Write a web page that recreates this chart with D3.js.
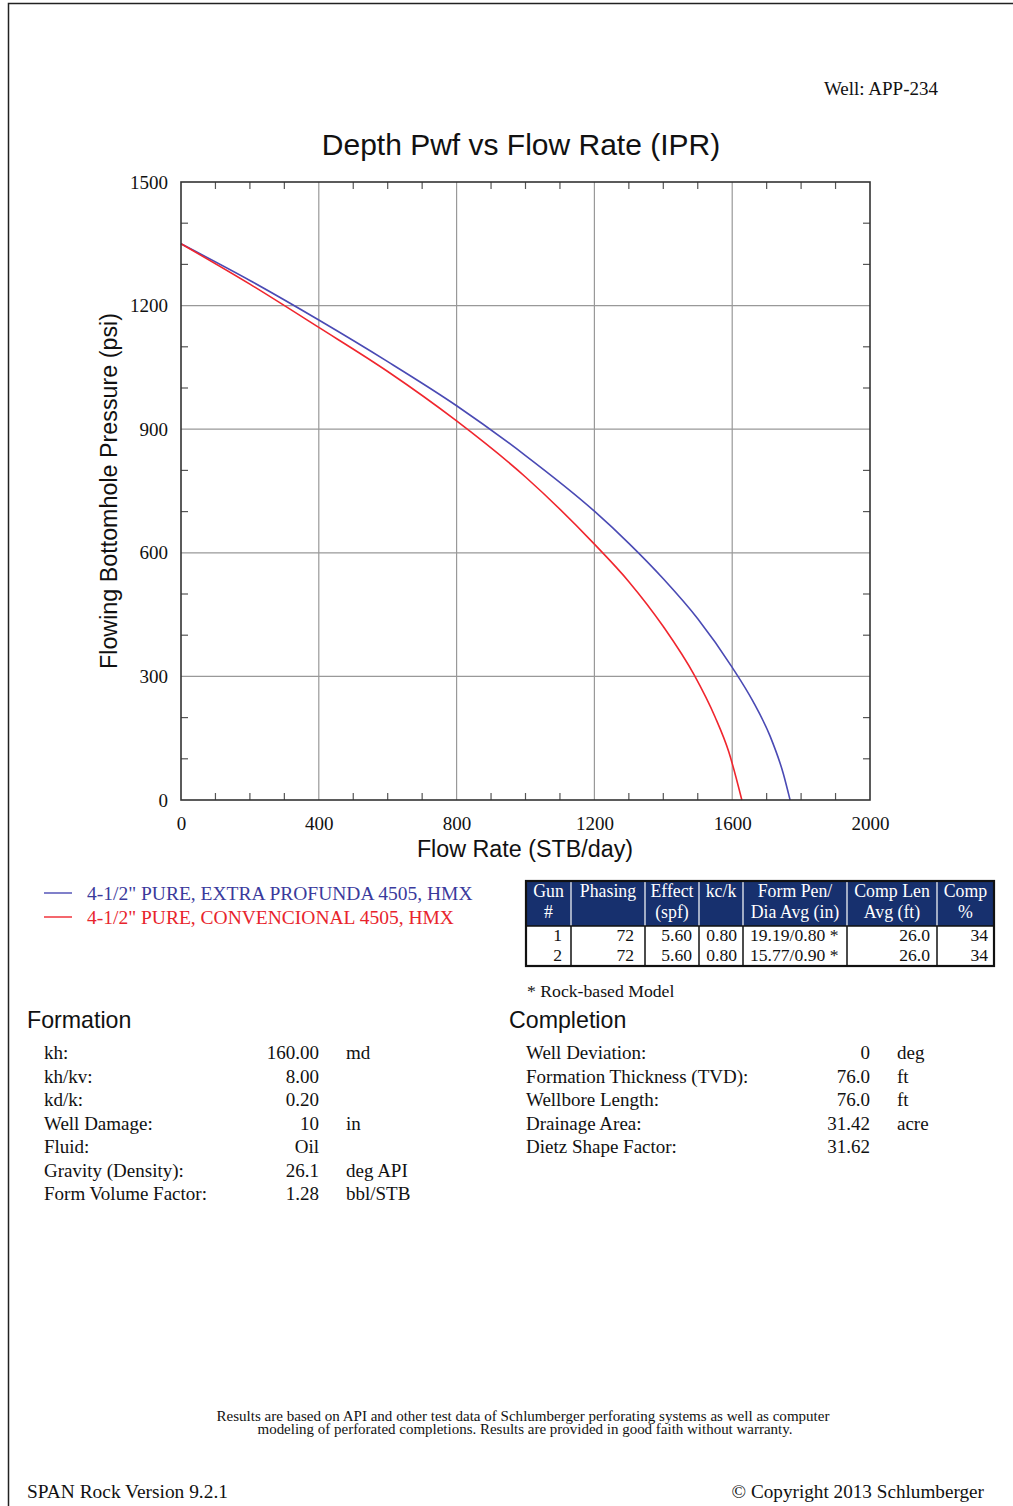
<!DOCTYPE html>
<html>
<head>
<meta charset="utf-8">
<script src="https://cdn.jsdelivr.net/npm/d3@7"></script>
<style>
  html, body { margin: 0; padding: 0; background: #fff; }
  svg { display: block; }
  .serif { font-family: "Liberation Serif", "Times New Roman", serif; }
  .sans { font-family: "Liberation Sans", Arial, sans-serif; }
</style>
</head>
<body>
<script>
// ---- Chart data ----
const xTicks = [0, 400, 800, 1200, 1600, 2000];
const yTicks = [0, 300, 600, 900, 1200, 1500];
const xMinor = d3.range(0, 2001, 100);
const yMinor = d3.range(0, 1501, 100);

// IPR curves: flow rate (STB/day) vs flowing bottomhole pressure (psi)
const extraRate     = [0, 200, 400, 600, 800, 1000, 1200, 1300, 1400, 1500, 1600, 1660, 1710, 1748, 1768];
const extraPressure = [1350, 1261, 1165, 1064, 957, 836, 701, 623, 537, 440, 322, 240, 155, 65, 0];
const convRate      = [0, 200, 400, 600, 800, 1000, 1200, 1300, 1400, 1490, 1550, 1590, 1628];
const convPressure  = [1350, 1252, 1147, 1040, 920, 784, 621, 530, 421, 303, 202, 117, 0];

const seriesNames  = ['4-1/2" PURE, EXTRA PROFUNDA 4505, HMX', '4-1/2" PURE, CONVENCIONAL 4505, HMX'];
const seriesColors = ["#4a4ab4", "#f0262e"];
const legendColors = ["#3a3a9c", "#e8242c"];

// Gun table
const tableHead1 = ["Gun", "Phasing", "Effect", "kc/k", "Form Pen/", "Comp Len", "Comp"];
const tableHead2 = ["#", "", "(spf)", "", "Dia Avg (in)", "Avg (ft)", "%"];
const tableRows = [
  ["1", "72", "5.60", "0.80", "19.19/0.80 *", "26.0", "34"],
  ["2", "72", "5.60", "0.80", "15.77/0.90 *", "26.0", "34"]
];

const formationLabels = ["kh:", "kh/kv:", "kd/k:", "Well Damage:", "Fluid:", "Gravity (Density):", "Form Volume Factor:"];
const formationValues = ["160.00", "8.00", "0.20", "10", "Oil", "26.1", "1.28"];
const formationUnits  = ["md", "", "", "in", "", "deg API", "bbl/STB"];

const completionLabels = ["Well Deviation:", "Formation Thickness (TVD):", "Wellbore Length:", "Drainage Area:", "Dietz Shape Factor:"];
const completionValues = ["0", "76.0", "76.0", "31.42", "31.62"];
const completionUnits  = ["deg", "ft", "ft", "acre", ""];

// ---- Page ----
const W = 1013, H = 1506;
const svg = d3.select("body").append("svg").attr("width", W).attr("height", H);
const ink = "#111";

// page frame (left and top edges)
svg.append("path").attr("d", `M8.5,${H} V3.5 H${W}`)
  .attr("fill", "none").attr("stroke", "#222").attr("stroke-width", 1.5);

svg.append("text").attr("class", "serif").attr("x", 938).attr("y", 95)
  .attr("text-anchor", "end").attr("font-size", 19).attr("fill", ink).text("Well: APP-234");

svg.append("text").attr("class", "sans").attr("x", 521).attr("y", 155)
  .attr("text-anchor", "middle").attr("font-size", 30).attr("fill", ink)
  .text("Depth Pwf vs Flow Rate (IPR)");

// ---- Plot ----
const plot = { left: 181, right: 870, top: 182, bottom: 800 };
const x = d3.scaleLinear().domain([0, 2000]).range([plot.left, plot.right]);
const y = d3.scaleLinear().domain([0, 1500]).range([plot.bottom, plot.top]);

const g = svg.append("g");

// grid lines at major ticks
g.append("g").selectAll("line").data(xTicks.slice(1, -1)).join("line")
  .attr("x1", d => x(d)).attr("x2", d => x(d)).attr("y1", plot.top).attr("y2", plot.bottom)
  .attr("stroke", "#999").attr("stroke-width", 1.2);
g.append("g").selectAll("line").data(yTicks.slice(1, -1)).join("line")
  .attr("y1", d => y(d)).attr("y2", d => y(d)).attr("x1", plot.left).attr("x2", plot.right)
  .attr("stroke", "#999").attr("stroke-width", 1.2);

// inward minor tick marks on all four sides
const tl = 7;
const minorX = xMinor.filter(d => !xTicks.includes(d));
const minorY = yMinor.filter(d => !yTicks.includes(d));
const tickG = g.append("g").attr("stroke", "#555").attr("stroke-width", 1.2);
tickG.selectAll(".tb").data(minorX).join("line").attr("class", "tb")
  .attr("x1", d => x(d)).attr("x2", d => x(d)).attr("y1", plot.bottom).attr("y2", plot.bottom - tl);
tickG.selectAll(".tt").data(minorX).join("line").attr("class", "tt")
  .attr("x1", d => x(d)).attr("x2", d => x(d)).attr("y1", plot.top).attr("y2", plot.top + tl);
tickG.selectAll(".tl").data(minorY).join("line").attr("class", "tl")
  .attr("y1", d => y(d)).attr("y2", d => y(d)).attr("x1", plot.left).attr("x2", plot.left + tl);
tickG.selectAll(".tr").data(minorY).join("line").attr("class", "tr")
  .attr("y1", d => y(d)).attr("y2", d => y(d)).attr("x1", plot.right).attr("x2", plot.right - tl);

// tick labels through d3 axes (domain and tick lines hidden)
const fmt = d3.format("d");
const xAxis = g.append("g").attr("transform", `translate(0,${plot.bottom})`)
  .call(d3.axisBottom(x).tickValues(xTicks).tickFormat(fmt).tickSize(0).tickPadding(17));
const yAxis = g.append("g").attr("transform", `translate(${plot.left},0)`)
  .call(d3.axisLeft(y).tickValues(yTicks).tickFormat(fmt).tickSize(0).tickPadding(13));
[xAxis, yAxis].forEach(a => {
  a.select(".domain").remove();
  a.selectAll("text").attr("class", "serif").attr("font-size", 19).attr("fill", ink);
});
yAxis.selectAll("text").attr("dy", "0.32em");

// curves
const line = d3.line().x(d => x(d[0])).y(d => y(d[1])).curve(d3.curveMonotoneX);
const series = [
  d3.zip(extraRate, extraPressure),
  d3.zip(convRate, convPressure)
];
g.append("g").selectAll("path").data(series).join("path")
  .attr("d", line).attr("fill", "none")
  .attr("stroke", (d, i) => seriesColors[i]).attr("stroke-width", 1.6);

// plot frame
g.append("rect").attr("x", plot.left).attr("y", plot.top)
  .attr("width", plot.right - plot.left).attr("height", plot.bottom - plot.top)
  .attr("fill", "none").attr("stroke", "#333").attr("stroke-width", 1.6);

// axis titles
svg.append("text").attr("class", "sans").attr("x", 525).attr("y", 857)
  .attr("text-anchor", "middle").attr("font-size", 23.3).attr("fill", ink).text("Flow Rate (STB/day)");
svg.append("text").attr("class", "sans")
  .attr("transform", `translate(117,${(plot.top + plot.bottom) / 2}) rotate(-90)`)
  .attr("text-anchor", "middle").attr("font-size", 23.3).attr("fill", ink)
  .text("Flowing Bottomhole Pressure (psi)");

// ---- Legend ----
const leg = svg.append("g").selectAll("g").data(seriesNames).join("g")
  .attr("transform", (d, i) => `translate(44,${893 + i * 24})`);
leg.append("line").attr("x1", 0).attr("x2", 28).attr("y1", 0).attr("y2", 0)
  .attr("stroke", (d, i) => seriesColors[i]).attr("stroke-width", 1.4);
leg.append("text").attr("class", "serif").attr("x", 43).attr("y", 6.5)
  .attr("font-size", 19.5).attr("fill", (d, i) => legendColors[i]).text(d => d);

// ---- Gun table ----
const colEdges = [526, 571, 645, 699, 743, 847, 937, 994];
const tTop = 881, headBottom = 926, rowH = 20;
const tBottom = headBottom + rowH * tableRows.length;
const tbl = svg.append("g");
tbl.append("rect").attr("x", colEdges[0]).attr("y", tTop)
  .attr("width", colEdges[7] - colEdges[0]).attr("height", headBottom - tTop).attr("fill", "#17306e");
// header separators
tbl.selectAll(".hs").data(colEdges.slice(1, -1)).join("line").attr("class", "hs")
  .attr("x1", d => d).attr("x2", d => d).attr("y1", tTop).attr("y2", headBottom)
  .attr("stroke", "#fff").attr("stroke-width", 1.2);
// body separators
tbl.selectAll(".bs").data(colEdges.slice(1, -1)).join("line").attr("class", "bs")
  .attr("x1", d => d).attr("x2", d => d).attr("y1", headBottom).attr("y2", tBottom)
  .attr("stroke", ink).attr("stroke-width", 1.5);
tbl.append("line").attr("x1", colEdges[0]).attr("x2", colEdges[7])
  .attr("y1", headBottom).attr("y2", headBottom).attr("stroke", ink).attr("stroke-width", 1.5);
tbl.append("rect").attr("x", colEdges[0]).attr("y", tTop)
  .attr("width", colEdges[7] - colEdges[0]).attr("height", tBottom - tTop)
  .attr("fill", "none").attr("stroke", ink).attr("stroke-width", 2.2);

const colMid = i => (colEdges[i] + colEdges[i + 1]) / 2;
tbl.selectAll(".h1").data(tableHead1).join("text").attr("class", "serif")
  .attr("x", (d, i) => colMid(i)).attr("y", 897).attr("text-anchor", "middle")
  .attr("font-size", 17.8).attr("fill", "#fff").text(d => d);
tbl.selectAll(".h2").data(tableHead2).join("text").attr("class", "serif")
  .attr("x", (d, i) => colMid(i)).attr("y", 918).attr("text-anchor", "middle")
  .attr("font-size", 17.8).attr("fill", "#fff").text(d => d);

const cellRight = [562, 634, 692, 737, 0, 930, 988];
tableRows.forEach((row, r) => {
  tbl.selectAll(".r" + r).data(row).join("text").attr("class", "serif")
    .attr("x", (d, i) => i === 4 ? colEdges[i] + 7 : cellRight[i])
    .attr("y", headBottom + 15 + r * rowH)
    .attr("text-anchor", (d, i) => i === 4 ? "start" : "end")
    .attr("font-size", 17.6).attr("fill", ink).text(d => d);
});

svg.append("text").attr("class", "serif").attr("x", 527).attr("y", 997)
  .attr("font-size", 17.7).attr("fill", ink).text("* Rock-based Model");

// ---- Parameter blocks ----
function block(x0, heading, labels, values, units, valueRight, unitX) {
  const b = svg.append("g");
  b.append("text").attr("class", "sans").attr("x", x0).attr("y", 1028)
    .attr("font-size", 23.2).attr("fill", ink).text(heading);
  const rows = b.selectAll("g").data(labels).join("g")
    .attr("transform", (d, i) => `translate(0,${1059 + i * 23.5})`);
  rows.append("text").attr("class", "serif").attr("x", x0 + 17)
    .attr("font-size", 19).attr("fill", ink).text(d => d);
  rows.append("text").attr("class", "serif").attr("x", valueRight).attr("text-anchor", "end")
    .attr("font-size", 19).attr("fill", ink).text((d, i) => values[i]);
  rows.append("text").attr("class", "serif").attr("x", unitX)
    .attr("font-size", 19).attr("fill", ink).text((d, i) => units[i]);
}
block(27, "Formation", formationLabels, formationValues, formationUnits, 319, 346);
block(509, "Completion", completionLabels, completionValues, completionUnits, 870, 897);

// ---- Footer ----
svg.append("text").attr("class", "serif").attr("x", 523).attr("y", 1421)
  .attr("text-anchor", "middle").attr("font-size", 14).attr("fill", ink)
  .attr("textLength", 613).attr("lengthAdjust", "spacingAndGlyphs")
  .text("Results are based on API and other test data of Schlumberger perforating systems as well as computer");
svg.append("text").attr("class", "serif").attr("x", 525).attr("y", 1434)
  .attr("text-anchor", "middle").attr("font-size", 14).attr("fill", ink)
  .attr("textLength", 535).attr("lengthAdjust", "spacingAndGlyphs")
  .text("modeling of perforated completions. Results are provided in good faith without warranty.");

svg.append("text").attr("class", "serif").attr("x", 27).attr("y", 1498)
  .attr("font-size", 19.4).attr("fill", ink).text("SPAN Rock Version 9.2.1");
svg.append("text").attr("class", "serif").attr("x", 984).attr("y", 1498)
  .attr("text-anchor", "end").attr("font-size", 19.2).attr("fill", ink).text("© Copyright 2013 Schlumberger");
</script>
</body>
</html>
